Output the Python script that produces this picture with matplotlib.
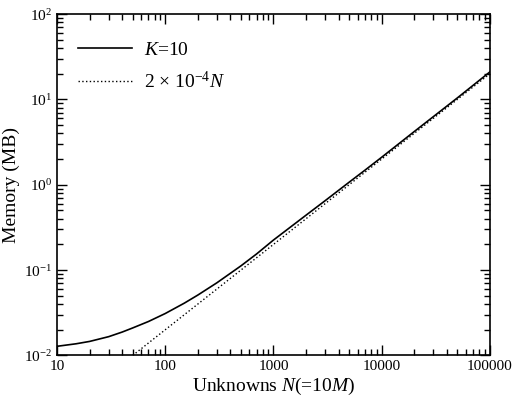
import matplotlib
matplotlib.use("Agg")
import matplotlib.pyplot as plt
from matplotlib.ticker import LogLocator, NullFormatter, FixedLocator, FixedFormatter

plt.rcParams['font.family'] = ['Liberation Serif', 'DejaVu Serif']
plt.rcParams['mathtext.fontset'] = 'custom'
plt.rcParams['mathtext.rm'] = 'Liberation Serif'
plt.rcParams['mathtext.it'] = 'Liberation Serif:italic'

# memory, K=10
unknowns = [10, 15, 20, 30, 40, 50, 70, 100, 150, 200, 300, 500, 700, 1000,
            2000, 3000, 5000, 7000, 10000, 20000, 50000, 100000]
memory_k10 = [0.0128, 0.0137, 0.0146, 0.0166, 0.0188, 0.021, 0.025, 0.031,
              0.041, 0.051, 0.071, 0.112, 0.155, 0.225, 0.44, 0.65, 1.07,
              1.48, 2.1, 4.2, 10.4, 21.0]
# reference line 2e-4 N
ref_n = [50, 100000]
ref_mem = [0.01, 20.0]

xtick_vals = [10, 100, 1000, 10000, 100000]
xtick_labels = ['10', '100', '1000', '10000', '100000']

fig = plt.figure(figsize=(5.14, 4.03), dpi=100)
ax = fig.add_axes([0.111, 0.118, 0.842, 0.847])

ax.plot(unknowns, memory_k10, color='black', linewidth=1.2, label='$K$=10')
ax.plot(ref_n, ref_mem, color='black', linewidth=1.0, linestyle=(0, (1, 1.7)),
        label=r'2 $\times$ 10$^{-4}$$N$')

ax.set_xscale('log')
ax.set_yscale('log')
ax.set_xlim(10, 100000)
ax.set_ylim(1e-2, 1e2)

ax.xaxis.set_major_locator(FixedLocator(xtick_vals))
ax.xaxis.set_major_formatter(FixedFormatter(xtick_labels))
ax.xaxis.set_minor_locator(LogLocator(base=10, subs=range(2, 10), numticks=20))
ax.xaxis.set_minor_formatter(NullFormatter())
ax.yaxis.set_minor_locator(LogLocator(base=10, subs=range(2, 10), numticks=20))
ax.yaxis.set_minor_formatter(NullFormatter())

ax.tick_params(which='both', direction='in', top=True, right=True, labelsize=11)
ax.tick_params(which='major', length=7, width=1)
ax.tick_params(which='minor', length=4, width=1)
for sp in ax.spines.values():
    sp.set_linewidth(1.2)

ax.set_xlabel('Unknowns $N$(=10$M$)', fontsize=14, labelpad=2)
ax.set_ylabel('Memory (MB)', fontsize=14, labelpad=3)

ax.legend(loc='upper left', bbox_to_anchor=(0.03, 0.942), borderaxespad=0,
          frameon=False, fontsize=14, handlelength=2.8,
          handletextpad=0.6, labelspacing=0.6)

fig.savefig('out.png', dpi=100)
